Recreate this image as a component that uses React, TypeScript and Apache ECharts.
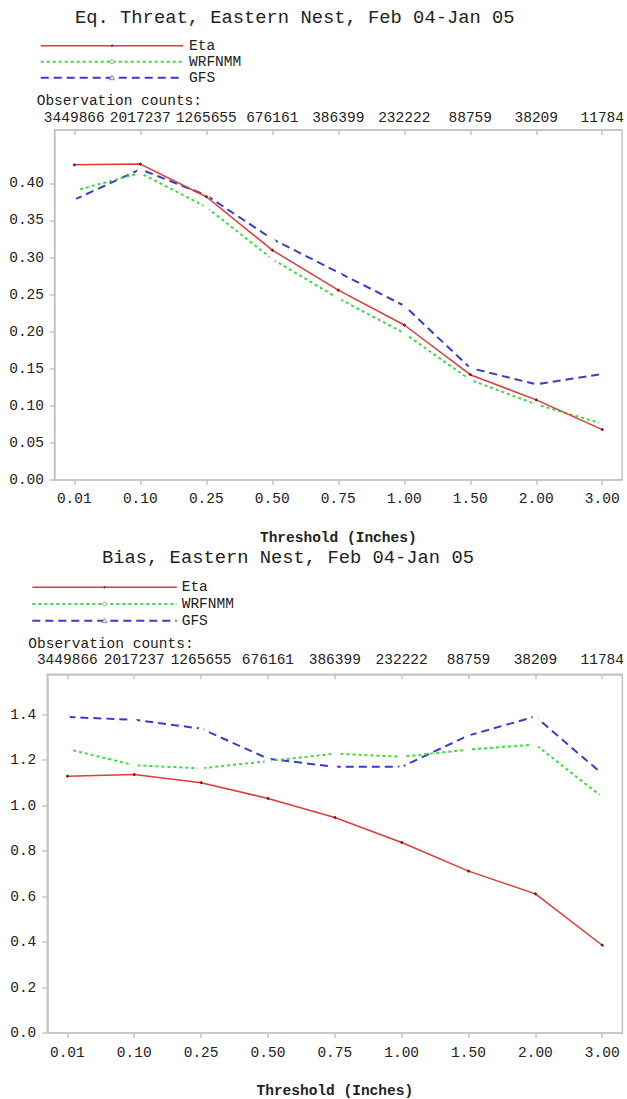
import React, { useEffect, useRef } from "react";
import * as echarts from "echarts";

const thresholds = ["0.01", "0.10", "0.25", "0.50", "0.75", "1.00", "1.50", "2.00", "3.00"];
const obsCounts = ["3449866", "2017237", "1265655", "676161", "386399", "232222", "88759", "38209", "11784"];
const seriesNames = ["Eta", "WRFNMM", "GFS"];

const etsEta = [0.425, 0.426, 0.382, 0.310, 0.256, 0.209, 0.142, 0.108, 0.068];
const etsWrf = [0.390, 0.414, 0.368, 0.298, 0.245, 0.198, 0.135, 0.102, 0.076];
const etsGfs = [0.378, 0.419, 0.384, 0.325, 0.280, 0.235, 0.151, 0.129, 0.143];

const biasEta = [1.130, 1.137, 1.101, 1.032, 0.948, 0.838, 0.712, 0.612, 0.386];
const biasWrf = [1.250, 1.178, 1.164, 1.196, 1.229, 1.215, 1.247, 1.269, 1.038];
const biasGfs = [1.390, 1.378, 1.339, 1.207, 1.171, 1.171, 1.309, 1.392, 1.140];

const etsTicks = [0, 0.05, 0.1, 0.15, 0.2, 0.25, 0.3, 0.35, 0.4];
const biasTicks = [0, 0.2, 0.4, 0.6, 0.8, 1.0, 1.2, 1.4];

const FONT = "Liberation Mono";
const TXT = "#222";
const AX = "#c4c4c4";

const styles = [
  { color: "#e03a3a", type: "solid" as any, width: 1.5, symbol: "circle", symbolSize: 2, mColor: "#702020", fill: "#702020" },
  { color: "#3ddc3d", type: [3, 3] as any, width: 2, symbol: "emptyCircle", symbolSize: 5, mColor: "#8aa88a", fill: "#fff" },
  { color: "#3a3acc", type: [8, 5] as any, width: 2, symbol: "emptyTriangle", symbolSize: 5, mColor: "#8888aa", fill: "#fff" },
];

const idx = thresholds.map((_, i) => i);

function makeSeries(vals: number[], k: number, gi: number) {
  const s = styles[k];
  return {
    type: "line",
    name: seriesNames[k],
    xAxisIndex: gi * 2,
    yAxisIndex: gi,
    data: vals.map((v, i) => [i, v]),
    symbol: s.symbol,
    symbolSize: s.symbolSize,
    showSymbol: true,
    lineStyle: { color: s.color, type: s.type, width: s.width },
    itemStyle: { color: s.fill, borderColor: s.mColor, borderWidth: 1 },
    z: 3 - k + 2,
  };
}

function legendGraphics(x1: number, x2: number, ys: number[], tx: number) {
  const out: any[] = [];
  ys.forEach((y, k) => {
    const s = styles[k];
    out.push({
      type: "line",
      shape: { x1, y1: y, x2, y2: y },
      style: { stroke: s.color, lineWidth: s.width, lineDash: s.type === "solid" ? null : s.type },
    });
    const mx = (x1 + x2) / 2;
    if (k === 0) out.push({ type: "circle", shape: { cx: mx, cy: y, r: 1 }, style: { fill: s.mColor } });
    if (k === 1) out.push({ type: "circle", shape: { cx: mx, cy: y, r: 2 }, style: { fill: "#fff", stroke: s.mColor, lineWidth: 1 } });
    if (k === 2)
      out.push({
        type: "polygon",
        shape: { points: [[mx, y - 2.5], [mx - 2.5, y + 2], [mx + 2.5, y + 2]] },
        style: { fill: "#fff", stroke: s.mColor, lineWidth: 1 },
      });
    out.push({
      type: "text",
      x: tx,
      y,
      style: { text: seriesNames[k], font: `14.5px "${FONT}"`, fill: TXT, verticalAlign: "middle", align: "left" },
    });
  });
  return out;
}

function xAxes(gi: number, margin: number, topMargin: number) {
  return [
    {
      type: "value",
      gridIndex: gi,
      position: "bottom",
      min: -0.3,
      max: 8.3,
      name: "Threshold (Inches)",
      nameLocation: "middle",
      nameGap: 50,
      nameTextStyle: { fontFamily: FONT, fontSize: 14.5, color: TXT, fontWeight: "bold" },
      axisLine: { show: true, onZero: false, lineStyle: { color: AX, width: 1.5 } },
      axisTick: { show: true, customValues: idx, length: 5, lineStyle: { color: AX, width: 1.5 } },
      axisLabel: {
        customValues: idx,
        margin,
        fontFamily: FONT,
        fontSize: 14.5,
        color: TXT,
        formatter: (v: number) => thresholds[Math.round(v)] ?? "",
      },
      splitLine: { show: false },
    },
    {
      type: "value",
      gridIndex: gi,
      position: "top",
      min: -0.3,
      max: 8.3,
      axisLine: { show: true, onZero: false, lineStyle: { color: AX, width: 1.5 } },
      axisTick: { show: true, inside: true, customValues: idx, length: 5, lineStyle: { color: AX, width: 1.5 } },
      axisLabel: {
        customValues: idx,
        inside: false,
        margin: topMargin,
        fontFamily: FONT,
        fontSize: 14.5,
        color: TXT,
        formatter: (v: number) => obsCounts[Math.round(v)] ?? "",
      },
      splitLine: { show: false },
    },
  ];
}

function yAxis(gi: number, max: number, ticks: number[], digits: number, margin: number) {
  return {
    type: "value",
    gridIndex: gi,
    position: "left",
    min: 0,
    max,
    axisLine: { show: true, onZero: false, lineStyle: { color: AX, width: 1.5 } },
    axisTick: { show: true, customValues: ticks, length: 5, lineStyle: { color: AX, width: 1.5 } },
    axisLabel: {
      customValues: ticks,
      margin,
      fontFamily: FONT,
      fontSize: 14.5,
      color: TXT,
      formatter: (v: number) => v.toFixed(digits),
    },
    splitLine: { show: false },
  };
}

export default function App() {
  const ref = useRef<HTMLDivElement>(null);
  useEffect(() => {
    if (!ref.current) return;
    const chart = echarts.init(ref.current, null, { renderer: "svg" });
    const textStyle = (t: string, x: number, y: number, size: number) => ({
      type: "text",
      x,
      y,
      style: { text: t, font: `${size}px "${FONT}"`, fill: TXT, align: "left", verticalAlign: "middle" },
    });
    chart.setOption({
      animation: false,
      backgroundColor: "#fff",
      grid: [
        { left: 54.5, top: 130, width: 570.5, height: 350, show: true, borderColor: AX, borderWidth: 1.5, backgroundColor: "transparent" },
        { left: 47.3, top: 674.3, width: 576.7, height: 360.7, show: true, borderColor: AX, borderWidth: 1.5, backgroundColor: "transparent" },
      ],
      xAxis: [...xAxes(0, 11, 5), ...xAxes(1, 12, 7)],
      yAxis: [yAxis(0, 0.472, etsTicks, 2, 10.5), yAxis(1, 1.578, biasTicks, 1, 11)],
      series: [
        makeSeries(etsEta, 0, 0),
        makeSeries(etsWrf, 1, 0),
        makeSeries(etsGfs, 2, 0),
        makeSeries(biasEta, 0, 1),
        makeSeries(biasWrf, 1, 1),
        makeSeries(biasGfs, 2, 1),
      ],
      graphic: [
        textStyle("Eq. Threat, Eastern Nest, Feb 04-Jan 05", 75, 18, 18.8),
        textStyle("Bias, Eastern Nest, Feb 04-Jan 05", 102, 558, 18.8),
        ...legendGraphics(40.7, 183.3, [45.7, 61.7, 77.7], 189),
        ...legendGraphics(32.3, 176.7, [587.3, 604, 620.7], 181.7),
        textStyle("Observation counts:", 36.7, 101, 14.5),
        textStyle("Observation counts:", 28.3, 644, 14.5),
      ],
    });
    return () => chart.dispose();
  }, []);
  return <div ref={ref} style={{ position: "fixed", left: 0, top: 0, width: 627, height: 1099 }} />;
}
